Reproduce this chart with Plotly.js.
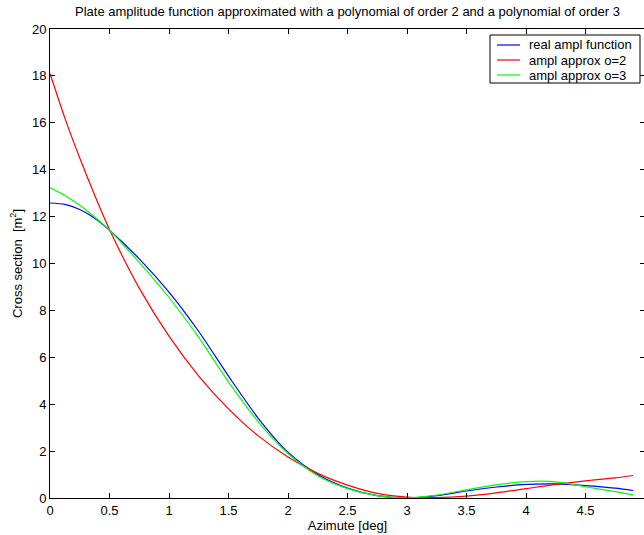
<!DOCTYPE html>
<html>
<head>
<meta charset="utf-8">
<script src="https://cdn.plot.ly/plotly-3.0.1.min.js"></script>
<style>html,body{margin:0;padding:0;background:#fff;overflow:hidden;}#chart{width:645px;height:535px;}</style>
</head>
<body>
<div id="chart"></div>
<script>
const azimuth = [0, 0.125, 0.25, 0.375, 0.5, 0.75, 1.0, 1.25, 1.5, 1.75, 2.0, 2.25, 2.5, 2.75, 3.0, 3.25, 3.5, 3.75, 4.0, 4.25, 4.5, 4.75, 4.9];
const realAmpl = [12.58, 12.52, 12.3, 11.93, 11.42, 10.2, 8.78, 7.1, 5.2, 3.4, 1.95, 1.0, 0.42, 0.1, 0.0, 0.1, 0.3, 0.47, 0.58, 0.6, 0.53, 0.42, 0.32];
const approxO2 = [18.1, 16.2, 14.5, 12.92, 11.45, 8.95, 6.9, 5.2, 3.8, 2.65, 1.75, 1.05, 0.55, 0.2, 0.04, 0.02, 0.08, 0.22, 0.4, 0.58, 0.73, 0.86, 0.96];
const approxO3 = [13.24, 12.9, 12.48, 11.98, 11.42, 10.05, 8.55, 6.85, 4.95, 3.25, 1.9, 0.95, 0.4, 0.1, 0.0, 0.12, 0.35, 0.56, 0.7, 0.69, 0.48, 0.27, 0.13];
const seriesNames = ['real ampl function', 'ampl approx o=2', 'ampl approx o=3'];
const seriesColors = ['#0000ff', '#ff0000', '#00ff00'];
const xTicks = [0, 0.5, 1, 1.5, 2, 2.5, 3, 3.5, 4, 4.5, 5];
const yTicks = [0, 2, 4, 6, 8, 10, 12, 14, 16, 18, 20];

const font = 'Liberation Sans, Arial, Helvetica, sans-serif';
const W = 645, H = 535, M = {l: 50, r: 0, t: 29, b: 37};
const pw = W - M.l - M.r, ph = H - M.t - M.b;
const px2p = px => (px - M.l) / pw;
const py2p = py => (H - M.b - py) / ph;

const ys = [realAmpl, approxO2, approxO3];
const traces = ys.map((y, i) => ({
  x: azimuth, y: y, name: seriesNames[i], mode: 'lines', showlegend: false,
  line: {color: seriesColors[i], width: 1.2, shape: 'spline', smoothing: 0.8}
}));

// manual MATLAB-style legend
const shapes = [{type: 'rect', xref: 'paper', yref: 'paper', x0: px2p(490), x1: px2p(640), y0: py2p(83), y1: py2p(35),
  line: {color: '#000', width: 1}, fillcolor: '#fff', layer: 'above'}];
const annotations = [];
const rowY = [45, 60, 75];
seriesNames.forEach((n, i) => {
  shapes.push({type: 'line', xref: 'paper', yref: 'paper', x0: px2p(497), x1: px2p(520), y0: py2p(rowY[i]), y1: py2p(rowY[i]),
    line: {color: seriesColors[i], width: 1.2}, layer: 'above'});
  annotations.push({xref: 'paper', yref: 'paper', x: px2p(527), y: py2p(rowY[i]), xanchor: 'left', yanchor: 'middle',
    text: n, showarrow: false, font: {family: font, size: 13, color: '#000'}});
});

const axisCommon = {
  showgrid: false, zeroline: false, showline: true, linecolor: '#000', linewidth: 1,
  ticks: 'inside', ticklen: 5, tickcolor: '#000', mirror: 'ticks',
  tickfont: {family: font, size: 13, color: '#000'}
};
const layout = {
  width: W, height: H, margin: M,
  paper_bgcolor: '#fff', plot_bgcolor: '#fff',
  font: {family: font, color: '#000'},
  title: {text: 'Plate amplitude function approximated with a polynomial of order 2 and a polynomial of order 3',
          font: {family: font, size: 13, color: '#000'}, xref: 'paper', x: 0.5, xanchor: 'center',
          yref: 'container', y: 0.988, yanchor: 'top'},
  xaxis: Object.assign({}, axisCommon, {range: [0, 5], tickvals: xTicks, ticktext: xTicks.map(String),
          ticklabelstandoff: 0,
          title: {text: 'Azimute [deg]', font: {family: font, size: 13, color: '#000'}, standoff: 0}}),
  yaxis: Object.assign({}, axisCommon, {range: [0, 20], tickvals: yTicks, ticktext: yTicks.map(String),
          title: {text: 'Cross section  [m<sup>2</sup>]', font: {family: font, size: 13, color: '#000'}, standoff: 6}}),
  showlegend: false,
  shapes: shapes,
  annotations: annotations
};
Plotly.newPlot('chart', traces, layout, {displayModeBar: false, staticPlot: true});
</script>
</body>
</html>
